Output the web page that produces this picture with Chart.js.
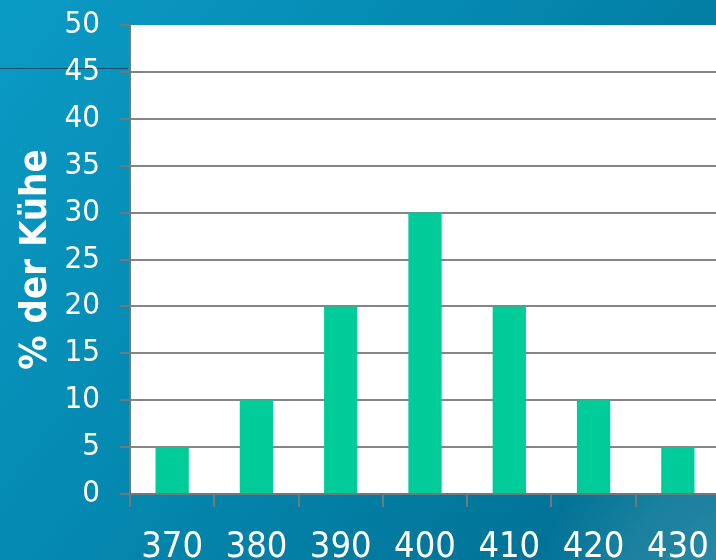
<!DOCTYPE html>
<html>
<head>
<meta charset="utf-8">
<script src="https://cdn.jsdelivr.net/npm/chart.js@4/dist/chart.umd.min.js"></script>
<style>
  html, body { margin: 0; padding: 0; overflow: hidden; background: #0588b2; }
  #wrap { position: absolute; left: 0; top: 0; width: 724px; height: 560px; }
</style>
</head>
<body>
<div id="wrap"><canvas id="c" width="724" height="560"></canvas></div>
<script>
// Milchleistung-Klassen und Anteil der Kühe in Prozent
const categories = ['370', '380', '390', '400', '410', '420', '430'];
const shareOfCows = [5, 10, 20, 30, 20, 10, 5];
const yTicks = [0, 5, 10, 15, 20, 25, 30, 35, 40, 45, 50];

const FONT = "'DejaVu Sans Condensed', 'Liberation Sans', 'DejaVu Sans', sans-serif";

// blue slide background with a lighter swoosh at the lower right
const backdrop = {
  id: 'backdrop',
  beforeDraw(chart) {
    const { ctx, width, height, chartArea } = chart;
    ctx.save();
    const g = ctx.createLinearGradient(0, 0, width, height);
    g.addColorStop(0, '#0a9bc5');
    g.addColorStop(0.45, '#0487ae');
    g.addColorStop(1, '#006a8d');
    ctx.fillStyle = g;
    ctx.fillRect(0, 0, width, height);
    const r = ctx.createRadialGradient(760, 620, 40, 760, 620, 230);
    r.addColorStop(0, 'rgba(90,170,190,0.55)');
    r.addColorStop(0.6, 'rgba(70,160,180,0.35)');
    r.addColorStop(1, 'rgba(70,160,180,0)');
    ctx.fillStyle = r;
    ctx.fillRect(0, 0, width, height);
    // thin rule at the upper left
    ctx.strokeStyle = '#1b4d68';
    ctx.lineWidth = 1;
    ctx.beginPath();
    ctx.moveTo(0, 68.5);
    ctx.lineTo(chartArea.left - 2, 68.5);
    ctx.stroke();
    // white plot area
    ctx.fillStyle = '#ffffff';
    ctx.fillRect(chartArea.left, chartArea.top, chartArea.right - chartArea.left, chartArea.bottom - chartArea.top);
    ctx.restore();
  }
};

new Chart(document.getElementById('c'), {
  type: 'bar',
  data: {
    labels: categories,
    datasets: [{
      data: shareOfCows,
      backgroundColor: '#00cc99',
      borderWidth: 0,
      categoryPercentage: 1,
      barPercentage: 0.395
    }]
  },
  options: {
    responsive: false,
    animation: false,
    layout: { padding: { top: 25, right: 4, left: 0, bottom: 0 } },
    plugins: {
      legend: { display: false },
      tooltip: { enabled: false }
    },
    scales: {
      x: {
        offset: true,
        grid: {
          offset: true,
          drawOnChartArea: false,
          drawTicks: true,
          tickLength: 13,
          color: '#6f7a80',
          lineWidth: 2
        },
        border: { display: true, color: '#6f7a80', width: 2 },
        ticks: {
          color: '#ffffff',
          font: { family: FONT, size: 36 },
          padding: 19,
          maxRotation: 0,
          autoSkip: false
        },
        afterFit(scale) {
          scale.height = 66;
          scale.paddingLeft = 0;
          scale.paddingRight = 0;
        }
      },
      y: {
        min: 0,
        max: 50,
        afterBuildTicks(scale) { scale.ticks = yTicks.map(v => ({ value: v })); },
        grid: {
          drawTicks: true,
          tickLength: 10,
          color: ctx => (ctx.tick && ctx.tick.value === 50) ? 'rgba(0,0,0,0)' : '#858585',
          tickColor: '#6f7a80',
          lineWidth: 2
        },
        border: { display: true, color: '#6f7a80', width: 2 },
        ticks: {
          color: '#ffffff',
          font: { family: FONT, size: 31 },
          padding: 20
        },
        title: {
          display: true,
          text: '% der Kühe',
          color: '#ffffff',
          font: { family: FONT, size: 38, weight: 'bold' },
          padding: { top: 13, bottom: 0 }
        },
        afterFit(scale) {
          scale.width = 130;
          scale.paddingTop = 0;
          scale.paddingBottom = 0;
        }
      }
    }
  },
  plugins: [backdrop]
});
</script>
</body>
</html>
